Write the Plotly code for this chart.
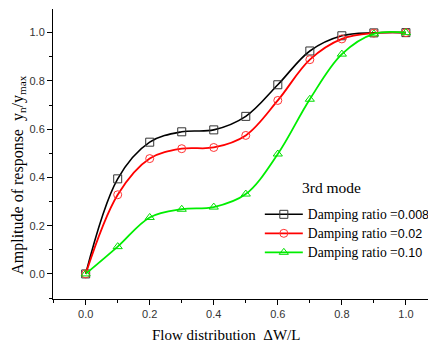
import plotly.graph_objects as go

x_vals = [0.0, 0.1, 0.2, 0.3, 0.4, 0.5, 0.6, 0.7, 0.8, 0.9, 1.0]
y_0008 = [0.0, 0.394, 0.546, 0.589, 0.597, 0.653, 0.784, 0.924, 0.987, 0.999, 1.0]
y_002 = [0.0, 0.328, 0.478, 0.519, 0.524, 0.574, 0.719, 0.888, 0.974, 0.998, 1.0]
y_010 = [0.0, 0.113, 0.234, 0.268, 0.277, 0.331, 0.497, 0.724, 0.911, 0.995, 1.0]
series_names = ["Damping ratio =0.008", "Damping ratio =0.02", "Damping ratio =0.10"]
x_ticks = [0.0, 0.2, 0.4, 0.6, 0.8, 1.0]
y_ticks = [0.0, 0.2, 0.4, 0.6, 0.8, 1.0]

serif = "Liberation Serif, Times New Roman, serif"
sans = "Liberation Sans, Arial, sans-serif"

def lab(name):
    pre, num = name.split("=")
    return (f'<span style="font-family:{serif};font-size:13.6px">{pre}=</span>'
            f'<span style="font-family:{sans};font-size:12.5px">{num}</span>')

fig = go.Figure()
styles = [
    (y_0008, "black", "square-open", "#333333", 1.6),
    (y_002, "#ff0000", "circle-open", "#ff3333", 1.8),
    (y_010, "#00ee00", "triangle-up-open", "#00dd00", 1.8),
]
for (ys, col, sym, mcol, w), name in zip(styles, series_names):
    fig.add_trace(go.Scatter(
        x=x_vals, y=ys, mode="lines+markers", name=lab(name),
        line=dict(color=col, width=w, shape="spline", smoothing=1.0),
        marker=dict(symbol=sym, size=8, color=mcol, line=dict(width=1)),
    ))

fig.add_annotation(x=0.645, y=0.386, xref="paper", yref="paper", text="3rd mode",
                   showarrow=False, xanchor="left", yanchor="middle",
                   font=dict(family=serif, size=15.5, color="black"))

fig.add_annotation(x=0.453, y=-0.124, xref="paper", yref="paper",
                   text="Flow distribution  \u0394W/L",
                   showarrow=False, xanchor="center", yanchor="middle",
                   font=dict(family=serif, size=15, color="black"))

fig.add_annotation(x=-0.089, y=0.428, xref="paper", yref="paper", textangle=-90,
                   text="Amplitude of response  y<sub>n</sub>/y<sub>max</sub>",
                   showarrow=False, xanchor="center", yanchor="middle",
                   font=dict(family=serif, size=16, color="black"))

fig.update_layout(
    width=470, height=337,
    margin=dict(l=45, r=42, t=1, b=46),
    plot_bgcolor="white", paper_bgcolor="white",
    showlegend=True,
    legend=dict(x=0.540, y=0.342, xanchor="left", yanchor="top",
                font=dict(family=serif, size=12, color="black"),
                bgcolor="rgba(0,0,0,0)", tracegroupgap=0, itemwidth=38),
    xaxis=dict(range=[-0.102, 1.094], tickvals=x_ticks, ticktext=[f"{v:.1f}" for v in x_ticks],
               ticks="outside", ticklen=5, tickwidth=1, tickcolor="black",
               showline=True, linecolor="black", linewidth=1, showgrid=False, zeroline=False,
               minor=dict(dtick=0.1, tick0=0, ticks="outside", ticklen=3, tickcolor="black", showgrid=False),
               tickfont=dict(family=sans, size=11, color="#333333")),
    yaxis=dict(range=[-0.104, 1.098], tickvals=y_ticks, ticktext=[f"{v:.1f}" for v in y_ticks],
               ticks="outside", ticklen=5, tickwidth=1, tickcolor="black",
               showline=True, linecolor="black", linewidth=1, showgrid=False, zeroline=False,
               minor=dict(dtick=0.1, tick0=0, ticks="outside", ticklen=3, tickcolor="black", showgrid=False),
               tickfont=dict(family=sans, size=11, color="#333333")),
)

fig.write_html("out.html")
